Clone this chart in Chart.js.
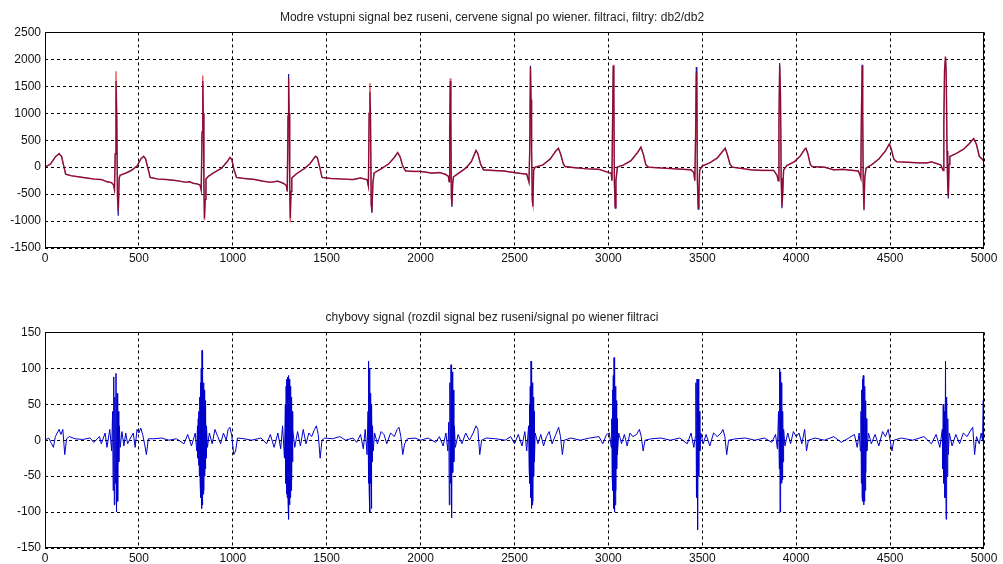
<!DOCTYPE html>
<html>
<head>
<meta charset="utf-8">
<script src="https://cdn.jsdelivr.net/npm/chart.js@4.4.1/dist/chart.umd.min.js"></script>
<style>
  html, body { margin: 0; padding: 0; background: #fff; }
  #wrap { position: relative; width: 1003px; height: 564px; }
  .pane { position: absolute; left: 0; width: 1003px; height: 282px; }
</style>
</head>
<body>
<div id="wrap">
  <div class="pane" style="top:0"><canvas id="chart-ecg" width="1003" height="282"></canvas></div>
  <div class="pane" style="top:282px"><canvas id="chart-err" width="1003" height="282"></canvas></div>
</div>
<script>
// top plot: sample index, clean input (blue), wiener output (red)
const ecgX = [
  0, 30, 55, 75, 88, 100, 110, 140, 200, 260, 300, 330, 355, 365, 370,
  374, 378, 382, 386, 390, 395, 400,
  430, 460, 490, 510, 525, 535, 548, 560, 600, 650, 700, 750, 770, 790, 810, 825, 832,
  836, 840, 843, 846, 849, 853, 857,
  870, 900, 940, 970, 985, 995, 1005, 1020, 1060, 1120, 1160, 1200, 1240, 1270, 1285, 1290,
  1294, 1297, 1300, 1303, 1306, 1310, 1314,
  1340, 1380, 1410, 1440, 1450, 1462, 1475, 1520, 1580, 1640, 1680, 1700, 1715, 1722,
  1726, 1730, 1733, 1737, 1741, 1746, 1752,
  1790, 1830, 1860, 1878, 1890, 1905, 1920, 1960, 2000, 2060, 2100, 2130, 2148, 2152,
  2155, 2158, 2161, 2164, 2167, 2171, 2175,
  2200, 2240, 2270, 2295, 2305, 2320, 2335, 2380, 2440, 2500, 2540, 2565, 2577,
  2581, 2585, 2588, 2591, 2595, 2598, 2602,
  2610, 2650, 2690, 2720, 2734, 2745, 2760, 2770, 2820, 2880, 2950, 3000, 3015, 3019,
  3022, 3026, 3029, 3032, 3036, 3040, 3048,
  3080, 3120, 3155, 3173, 3185, 3200, 3215, 3300, 3400, 3440, 3455, 3460,
  3464, 3468, 3471, 3474, 3478, 3482, 3486,
  3500, 3540, 3580, 3610, 3622, 3632, 3648, 3660, 3700, 3760, 3820, 3880, 3898, 3904,
  3908, 3912, 3916, 3920, 3924, 3928, 3933,
  3950, 3990, 4020, 4045, 4052, 4062, 4075, 4085, 4150, 4200, 4250, 4300, 4330, 4340, 4344,
  4347, 4351, 4354, 4357, 4361, 4365, 4372,
  4400, 4440, 4475, 4496, 4505, 4520, 4535, 4600, 4650, 4700, 4720, 4745, 4770, 4782,
  4786, 4790, 4795, 4799, 4803, 4807, 4810, 4814, 4818,
  4850, 4890, 4920, 4945, 4960, 4975, 4990, 5000
];
const cleanY = [
  0, 60, 190, 250, 200, 20, -130, -160, -190, -220, -230, -270, -290, -330, -420,
  250, 1600, 950, -550, -900, -200, -150,
  -110, -60, 20, 150, 200, 160, -20, -190, -220, -230, -250, -280, -270, -300, -310, -330, -430,
  650, 1600, 1000, -300, -950, -600, -220,
  -170, -100, -20, 100, 180, 140, -30, -190, -210, -230, -260, -280, -260, -300, -340, -450,
  950, 1730, 1000, -400, -950, -450, -200,
  -120, -30, 60, 200, 180, 10, -190, -210, -220, -230, -200, -220, -230, -350,
  1000, 1400, 1000, -700, -850, -300, -110,
  -30, 60, 180, 270, 200, 20, -70, -80, -80, -110, -100, -130, -170, -270,
  750, 1600, 900, -550, -740, -300, -180,
  -120, -20, 100, 310, 250, 50, -50, -60, -70, -100, -120, -130, -280,
  300, 1880, 1250, 300, -600, -730, -50,
  0, 40, 150, 300, 350, 250, 60, 10, -10, -30, -40, -100, -110, -250,
  800, 1880, 1300, -300, -760, -250, 0,
  40, 120, 270, 370, 250, 40, 0, -20, -40, -50, -100, -250,
  500, 1860, 1500, -250, -780, -500, -50,
  20, 80, 170, 300, 350, 250, 50, 0, -20, -50, -60, -60, -150, -250,
  800, 1930, 1400, -200, -760, -500, -50,
  30, 100, 200, 330, 350, 250, 50, 10, 0, -50, -40, -60, -70, -150, -200,
  900, 1900, 1000, -300, -800, -200, -20,
  40, 150, 300, 430, 350, 150, 100, 90, 80, 80, 100, 70, 40, -60,
  800, 1800, 2050, 1700, 300, -390, -580, 50, 200,
  250, 330, 430, 530, 420, 200, 150, 100
];
const wienerY = [
  0, 60, 190, 250, 200, 20, -130, -160, -190, -220, -230, -270, -290, -330, -420,
  250, 1780, 950, -550, -800, -200, -150,
  -110, -60, 20, 150, 200, 160, -20, -190, -220, -230, -250, -280, -270, -300, -310, -330, -430,
  650, 1700, 1000, -300, -980, -600, -220,
  -170, -100, -20, 100, 180, 140, -30, -190, -210, -230, -260, -280, -260, -300, -340, -450,
  950, 1650, 1000, -400, -1020, -450, -200,
  -120, -30, 60, 200, 180, 10, -190, -210, -220, -230, -200, -220, -230, -350,
  1000, 1560, 1000, -700, -750, -300, -110,
  -30, 60, 180, 270, 200, 20, -70, -80, -80, -110, -100, -130, -170, -270,
  750, 1650, 900, -550, -700, -300, -180,
  -120, -20, 100, 310, 250, 50, -50, -60, -70, -100, -120, -130, -280,
  300, 1850, 1250, 300, -650, -700, -50,
  0, 40, 150, 300, 350, 250, 60, 10, -10, -30, -40, -100, -110, -250,
  800, 1900, 1300, -300, -740, -250, 0,
  40, 120, 270, 370, 250, 40, 0, -20, -40, -50, -100, -250,
  500, 1750, 1500, -250, -740, -500, -50,
  20, 80, 170, 300, 350, 250, 50, 0, -20, -50, -60, -60, -150, -250,
  800, 1880, 1400, -200, -730, -500, -50,
  30, 100, 200, 330, 350, 250, 50, 10, 0, -50, -40, -60, -70, -150, -200,
  900, 1880, 1000, -300, -780, -200, -20,
  40, 150, 300, 430, 350, 150, 100, 90, 80, 80, 100, 70, 40, -60,
  800, 1800, 2050, 1700, 300, -390, -540, 50, 200,
  250, 330, 430, 530, 420, 200, 150, 100
];

// bottom plot: error signal (clean - wiener)
const errX = [
  0, 20, 35, 45, 55, 65, 75, 85, 95, 105, 115, 130, 160, 200, 240, 260, 290, 300, 320, 330, 345, 355,
  360, 363, 366, 369, 372, 375, 378, 381, 384, 387, 390, 393, 396, 400,
  410, 420, 430, 440, 455, 470, 480, 490, 500, 510, 520, 530, 540, 550, 580, 620, 660, 700, 740, 760, 780, 800, 808,
  812, 814, 816, 818, 820, 822, 824, 826, 828, 830, 832, 834, 836, 838, 840, 842, 844, 846, 848, 850, 852, 854, 856, 858, 860, 865,
  875, 890, 905, 920, 935, 950, 965, 975, 985, 995, 1005, 1015, 1025, 1060, 1100, 1150, 1180, 1200, 1220, 1240, 1255, 1265, 1275,
  1280, 1282, 1284, 1286, 1288, 1290, 1292, 1294, 1296, 1298, 1300, 1302, 1304, 1306, 1308, 1310, 1312, 1314, 1316, 1318, 1320,
  1330, 1345, 1360, 1375, 1390, 1405, 1420, 1435, 1445, 1455, 1465, 1475, 1490, 1530, 1570, 1600, 1640, 1660, 1680, 1695, 1705, 1715,
  1720, 1722, 1724, 1726, 1728, 1730, 1732, 1734, 1736, 1738, 1740, 1742, 1744, 1748,
  1755, 1770, 1790, 1805, 1820, 1840, 1860, 1875, 1885, 1895, 1905, 1915, 1930, 1970, 2000, 2040, 2080, 2100, 2120, 2135, 2145,
  2150, 2153, 2156, 2159, 2162, 2165, 2168, 2171, 2174, 2177, 2180, 2185,
  2200, 2220, 2240, 2260, 2280, 2295, 2305, 2315, 2325, 2350, 2400, 2450, 2480, 2500, 2520, 2540, 2555, 2565, 2575,
  2578, 2580, 2582, 2584, 2586, 2588, 2590, 2592, 2594, 2596, 2598, 2600, 2602, 2604, 2606,
  2610, 2625, 2640, 2655, 2670, 2685, 2700, 2720, 2735, 2745, 2755, 2765, 2800, 2850, 2900, 2950, 2970, 2990, 3005, 3015,
  3018, 3020, 3022, 3024, 3026, 3028, 3030, 3032, 3034, 3036, 3038, 3040, 3042, 3044, 3046, 3048,
  3055, 3070, 3085, 3100, 3115, 3130, 3150, 3165, 3175, 3185, 3195, 3230, 3280, 3330, 3380, 3420, 3440, 3455, 3463,
  3466, 3469, 3472, 3475, 3478, 3481, 3484, 3487,
  3492, 3505, 3520, 3540, 3560, 3580, 3600, 3610, 3620, 3630, 3640, 3680, 3730, 3780, 3830, 3870, 3890, 3900, 3906,
  3910, 3912, 3914, 3916, 3918, 3920, 3922, 3924, 3926, 3928, 3930, 3933,
  3940, 3955, 3970, 3985, 4000, 4015, 4030, 4045, 4055, 4065, 4100, 4150, 4200, 4240, 4280, 4310, 4325, 4335, 4342,
  4345, 4347, 4349, 4351, 4353, 4355, 4357, 4359, 4361, 4363, 4365, 4367, 4369, 4371, 4373, 4376,
  4385, 4400, 4420, 4440, 4460, 4475, 4490, 4500, 4510, 4520, 4560, 4620, 4680, 4720, 4745, 4765, 4778,
  4780, 4783, 4786, 4789, 4792, 4795, 4798, 4801, 4804, 4807, 4810, 4815,
  4830, 4850, 4870, 4890, 4910, 4925, 4940, 4950, 4960, 4975, 4985, 4992, 4996, 5000
];
const errY = [
  0, 3, -5, -10, 5, 10, 15, 8, 15, -20, 2, 5, 2, 1, 3, -3, 5, -5, 10, -10, 15, -15,
  40, -70, 88, -90, 60, -60, 93, -100, 65, -85, 40, -30, 20, -10,
  12, -8, 10, -5, 3, 10, -10, 15, 10, 17, 8, -5, -20, 2, 2, 3, 0, 2, -5, 8, -8, 10, -15,
  20, -25, 30, -35, 40, -50, 60, -60, 80, -80, 100, -95, 125, -90, 95, -75, 80, -70, 70, -50, 55, -40, 35, -25, 20, -10,
  10, -5, 15, 5, -5, 10, 0, 15, 18, 5, -20, -15, 3, 2, 0, 3, -5, 8, -10, 10, -12, 20, -25,
  50, -60, 75, -75, 85, -80, 88, -85, 90, -110, 85, -90, 85, -80, 75, -70, 60, -55, 40, -30, 15,
  -10, 12, -8, 15, -5, 10, 5, 15, 20, 8, -25, 0, 3, 2, 5, 0, 3, -3, 8, -12, 15, -20,
  40, -60, 110, -70, 100, -100, 65, -60, 50, -95, 40, -30, 20, -15,
  10, -5, 12, 8, -5, 10, 5, 15, 18, 5, -20, -5, 2, 3, 0, 3, -3, 5, -8, 10, -15,
  25, -90, 80, -60, 105, -108, 95, -45, 70, -30, 20, -10,
  8, -5, 10, 0, 10, 20, 15, -20, 0, 3, 2, 0, 5, -5, 8, -8, 12, -15, 20,
  -40, 50, -60, 75, -80, 110, -95, 100, -90, 80, -85, 60, -50, 40, -30,
  10, -5, 8, -8, 5, 12, -5, 8, 18, 5, -20, 0, 3, 0, 3, 5, -5, 8, 10, -10,
  30, -50, 70, -70, 90, -95, 115, -100, 100, -90, 75, -70, 55, -40, 30, -20,
  10, -5, 8, -8, 10, 5, 8, 15, 5, -15, 0, 2, 3, 0, 3, -5, 10, -10, 5,
  80, -80, 85, -125, 85, -50, 40, -15,
  10, -5, 8, -8, 10, 5, 10, 15, 5, -20, 0, 2, 3, 0, 3, -3, 8, -12, 40,
  -40, 100, -100, 95, -60, 80, -60, 60, -55, 40, -30, 15,
  -8, 10, -5, 12, 5, 10, -5, 15, -15, 0, 3, 0, 5, -3, 3, 8, -10, 10, -15,
  40, -60, 70, -80, 85, -85, 90, -90, 85, -85, 75, -70, 55, -45, 30, -15,
  10, -5, 8, -8, 12, 5, 15, 0, -15, 0, 3, 0, 5, -5, 8, -10, 15,
  -40, 50, -60, 40, -80, 110, -110, 60, -50, 30, -20, 10,
  -8, 8, -5, 10, 5, 12, 18, -20, 5, -5, 10, 0, 55, 30
];

const titleTop = 'Modre vstupni signal bez ruseni, cervene signal po wiener. filtraci, filtry: db2/db2';
const titleBottom = 'chybovy signal (rozdil signal bez ruseni/signal po wiener filtraci';

const fontFamily = '"Liberation Sans", Arial, sans-serif';

function toPoints(xs, ys) {
  return xs.map((x, i) => ({ x: x, y: ys[i] }));
}

// MATLAB style closed box around the axes
const boxPlugin = {
  id: 'box',
  afterDraw(chart) {
    const a = chart.chartArea;
    const ctx = chart.ctx;
    ctx.save();
    ctx.strokeStyle = '#000';
    ctx.lineWidth = 1;
    ctx.strokeRect(Math.round(a.left) + 0.5, Math.round(a.top) + 0.5,
      Math.round(a.right - a.left) - 1, Math.round(a.bottom - a.top) - 1);
    ctx.restore();
  }
};

function makeOptions(title, yMin, yMax, yStep, titlePad, xHeight) {
  return {
    responsive: false,
    animation: false,
    devicePixelRatio: 1,
    layout: { padding: { left: 0, right: 19, top: 0, bottom: 0 } },
    elements: { point: { radius: 0 }, line: { tension: 0 } },
    plugins: {
      legend: { display: false },
      tooltip: { enabled: false },
      title: {
        display: true,
        text: title,
        color: '#222',
        font: { family: fontFamily, size: 12, weight: 'normal', lineHeight: 1.2 },
        padding: titlePad
      }
    },
    scales: {
      x: {
        type: 'linear',
        min: 0,
        max: 5000,
        afterFit: function(s) { s.height = xHeight; },
        ticks: {
          stepSize: 500,
          padding: 3,
          color: '#111',
          maxRotation: 0,
          font: { family: fontFamily, size: 12 },
          callback: function(v) { return String(v); }
        },
        grid: { color: '#000', lineWidth: 1, drawTicks: false },
        border: { display: false, dash: [3, 3] }
      },
      y: {
        min: yMin,
        max: yMax,
        afterFit: function(s) { s.width = 45; },
        ticks: {
          stepSize: yStep,
          padding: 4,
          color: '#111',
          font: { family: fontFamily, size: 12 },
          callback: function(v) { return String(v); }
        },
        grid: { color: '#000', lineWidth: 1, drawTicks: false },
        border: { display: false, dash: [3, 3] }
      }
    }
  };
}

// red (filtered) is drawn over blue (clean input): lower order is painted last
new Chart(document.getElementById('chart-ecg').getContext('2d'), {
  type: 'line',
  data: {
    datasets: [
      {
        label: 'vstupni signal',
        data: toPoints(ecgX, cleanY),
        borderColor: '#1a1a90',
        borderWidth: 1.2,
        fill: false,
        order: 2
      },
      {
        label: 'po wiener filtraci',
        data: toPoints(ecgX, wienerY),
        borderColor: 'rgba(215,0,0,0.62)',
        borderWidth: 1.5,
        fill: false,
        order: 1
      }
    ]
  },
  options: makeOptions(titleTop, -1500, 2500, 500, { top: 10, bottom: 8 }, 34),
  plugins: [boxPlugin]
});

new Chart(document.getElementById('chart-err').getContext('2d'), {
  type: 'line',
  data: {
    datasets: [
      {
        label: 'chybovy signal',
        data: toPoints(errX, errY),
        borderColor: '#0000cc',
        borderWidth: 1,
        fill: false
      }
    ]
  },
  options: makeOptions(titleBottom, -150, 150, 50, { top: 28, bottom: 8 }, 16),
  plugins: [boxPlugin]
});
</script>
</body>
</html>
